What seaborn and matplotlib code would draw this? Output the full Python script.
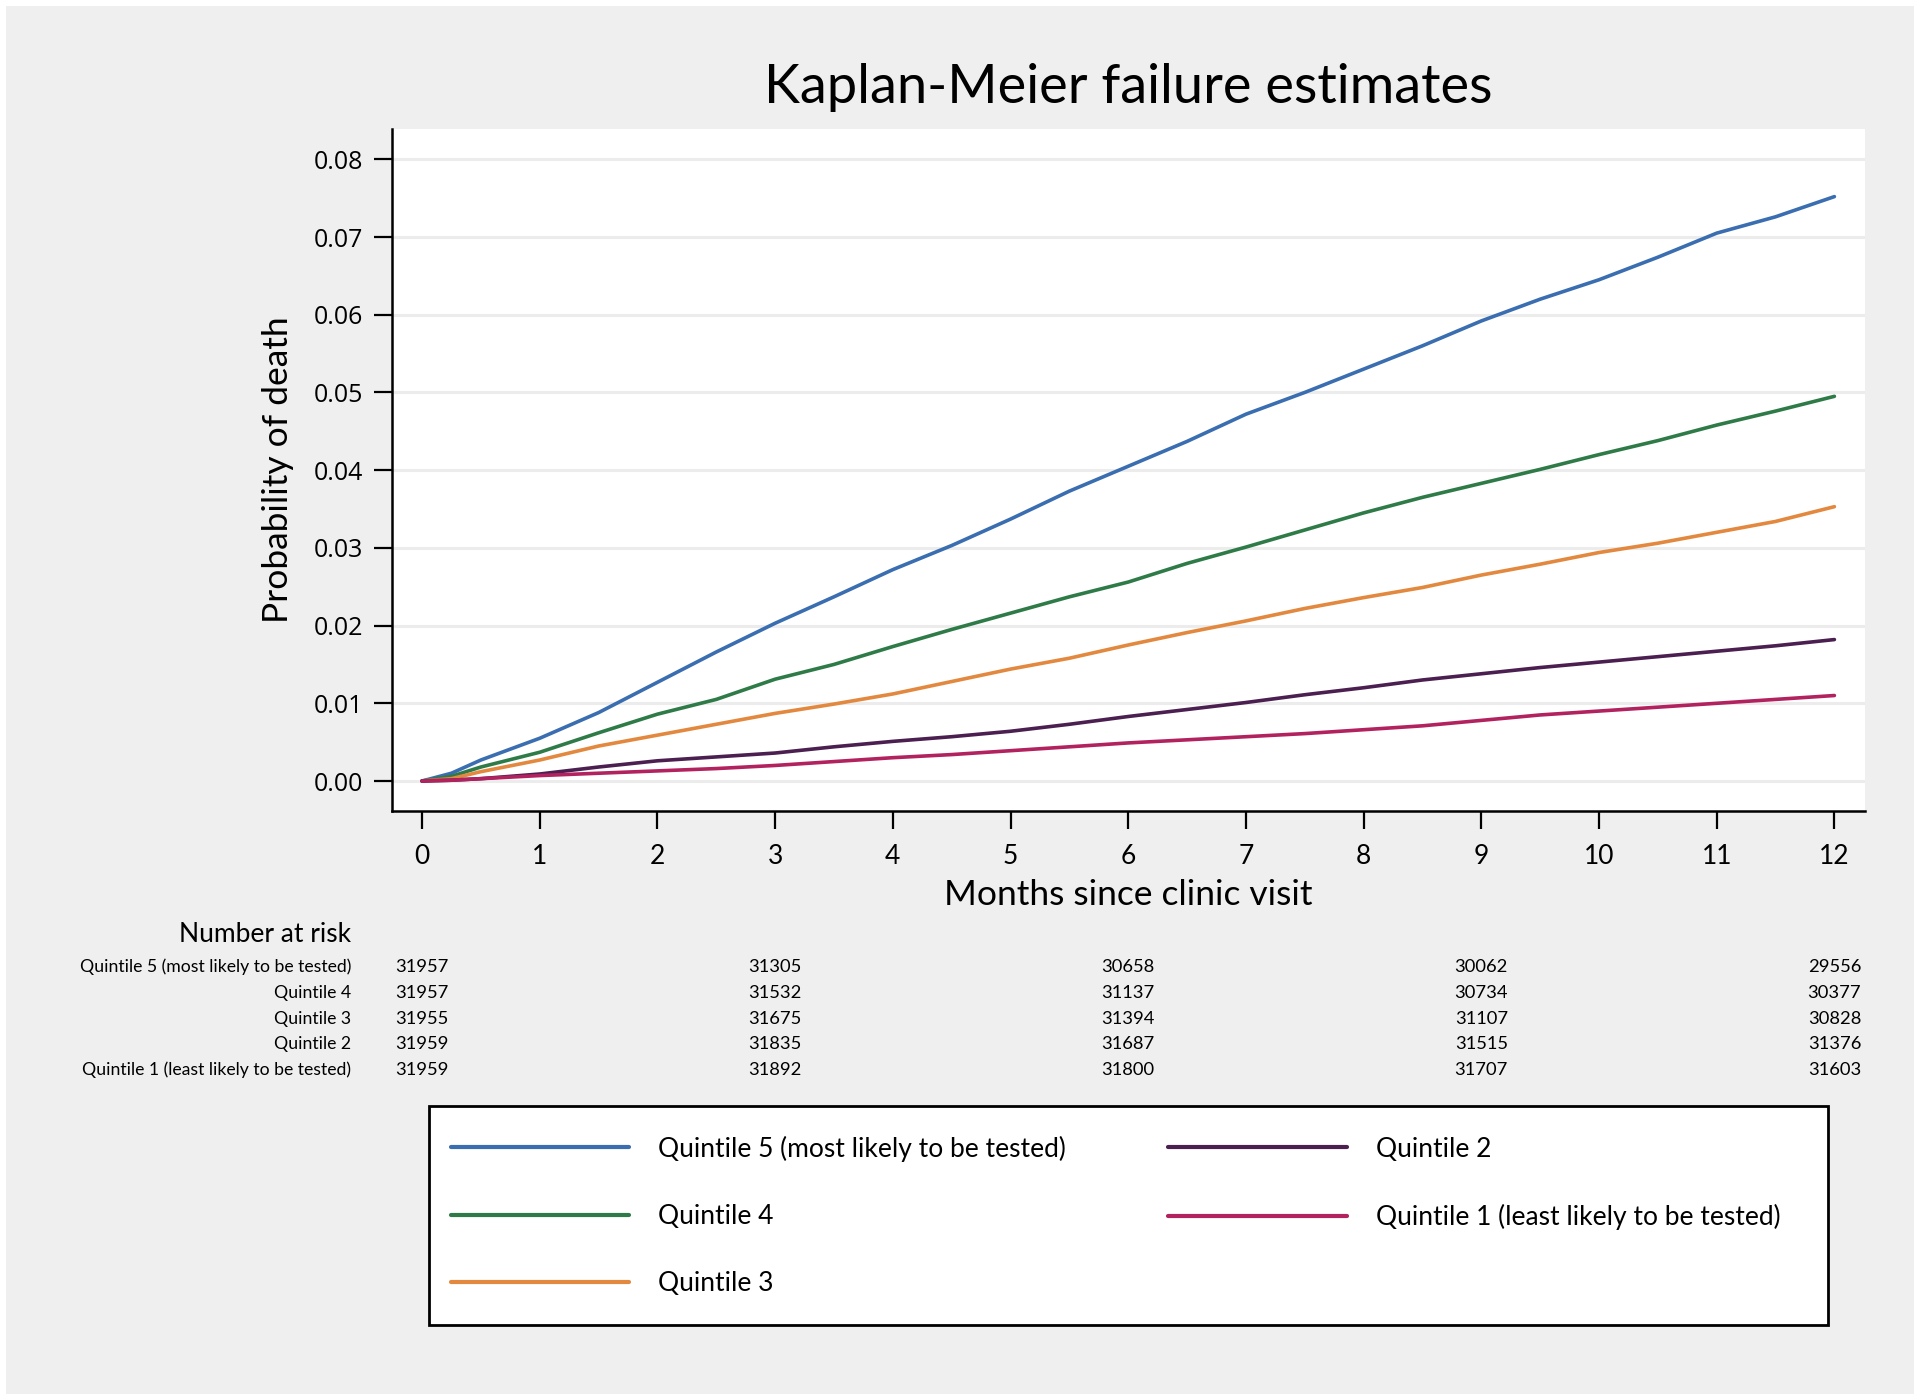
import numpy as np
import pandas as pd
import matplotlib
matplotlib.use("Agg")
import matplotlib.pyplot as plt
from matplotlib.patches import Rectangle
from matplotlib.lines import Line2D
from matplotlib.transforms import blended_transform_factory
import seaborn as sns

# ---------------- data ----------------
months = [0, 0.25, 0.5, 1, 1.5, 2, 2.5, 3, 3.5, 4, 4.5, 5, 5.5, 6, 6.5, 7, 7.5,
          8, 8.5, 9, 9.5, 10, 10.5, 11, 11.5, 12]
q5 = [0, 0.0010, 0.0027, 0.0055, 0.0088, 0.0127, 0.0166, 0.0203, 0.0237, 0.0272,
      0.0303, 0.0337, 0.0373, 0.0405, 0.0437, 0.0472, 0.0500, 0.0530, 0.0560,
      0.0592, 0.0620, 0.0645, 0.0674, 0.0705, 0.0726, 0.0752]
q4 = [0, 0.0006, 0.0018, 0.0037, 0.0062, 0.0086, 0.0105, 0.0131, 0.0150, 0.0173,
      0.0195, 0.0216, 0.0237, 0.0256, 0.0280, 0.0301, 0.0323, 0.0345, 0.0365,
      0.0383, 0.0401, 0.0420, 0.0438, 0.0458, 0.0476, 0.0495]
q3 = [0, 0.0003, 0.0012, 0.0027, 0.0045, 0.0059, 0.0073, 0.0087, 0.0099, 0.0112,
      0.0128, 0.0144, 0.0158, 0.0175, 0.0191, 0.0206, 0.0222, 0.0236, 0.0249,
      0.0265, 0.0279, 0.0294, 0.0306, 0.0320, 0.0334, 0.0353]
q2 = [0, 0.0001, 0.0003, 0.0009, 0.0018, 0.0026, 0.0031, 0.0036, 0.0044, 0.0051,
      0.0057, 0.0064, 0.0073, 0.0083, 0.0092, 0.0101, 0.0111, 0.0120, 0.0130,
      0.0138, 0.0146, 0.0153, 0.0160, 0.0167, 0.0174, 0.0182]
q1 = [0, 0.0001, 0.0003, 0.0007, 0.0010, 0.0013, 0.0016, 0.0020, 0.0025, 0.0030,
      0.0034, 0.0039, 0.0044, 0.0049, 0.0053, 0.0057, 0.0061, 0.0066, 0.0071,
      0.0078, 0.0085, 0.0090, 0.0095, 0.0100, 0.0105, 0.0110]

group_labels = ["Quintile 5 (most likely to be tested)", "Quintile 4", "Quintile 3",
                "Quintile 2", "Quintile 1 (least likely to be tested)"]
group_colors = ["#3a6eb0", "#2e7b48", "#e3883f", "#4b1f50", "#b2225e"]

risk_times = [0, 3, 6, 9, 12]
risk_q5 = [31957, 31305, 30658, 30062, 29556]
risk_q4 = [31957, 31532, 31137, 30734, 30377]
risk_q3 = [31955, 31675, 31394, 31107, 30828]
risk_q2 = [31959, 31835, 31687, 31515, 31376]
risk_q1 = [31959, 31892, 31800, 31707, 31603]

y_ticks = [0.00, 0.01, 0.02, 0.03, 0.04, 0.05, 0.06, 0.07, 0.08]
x_ticks = list(range(0, 13))

# ---------------- build frame ----------------
series = [q5, q4, q3, q2, q1]
df = pd.concat([pd.DataFrame({"month": months, "prob": s, "group": g})
                for s, g in zip(series, group_labels)], ignore_index=True)

sns.set_theme(style="white")
plt.rcParams["font.family"] = ["Lato", "DejaVu Sans"]
plt.rcParams["text.color"] = "black"
plt.rcParams["axes.labelcolor"] = "black"
plt.rcParams["xtick.color"] = "black"
plt.rcParams["ytick.color"] = "black"

W, H = 1920, 1400
fig = plt.figure(figsize=(19.2, 14), dpi=100, facecolor="white")
fig.patches.append(Rectangle((6 / W, 6 / H), 1 - 12 / W, 1 - 12 / H,
                             transform=fig.transFigure, facecolor="#efefef",
                             edgecolor="none", zorder=-10))

L, R, T, B = 392, 1865, 129, 811
ax = fig.add_axes([L / W, 1 - B / H, (R - L) / W, (B - T) / H])
ax.set_facecolor("white")

palette = dict(zip(group_labels, group_colors))
sns.lineplot(data=df, x="month", y="prob", hue="group", hue_order=group_labels,
             palette=palette, linewidth=2.6, legend=False, ax=ax)

ax.set_xlim(-0.255, 12.26)
ax.set_ylim(-0.00386, 0.0839)
ax.set_xticks(x_ticks)
ax.set_yticks(y_ticks)
ax.set_yticklabels([f"{v:.2f}" for v in y_ticks], fontfamily="Open Sans", fontsize=18)
ax.set_xticklabels([str(v) for v in x_ticks], fontsize=19)
ax.yaxis.grid(True, color="#ececec", linewidth=2.2)
ax.set_axisbelow(True)
for side in ("top", "right"):
    ax.spines[side].set_visible(False)
for side in ("left", "bottom"):
    ax.spines[side].set_color("black")
    ax.spines[side].set_linewidth(1.8)
ax.tick_params(axis="both", which="major", direction="out", length=13, width=1.6,
               color="black", labelcolor="black", left=True, bottom=True)
ax.tick_params(axis="y", pad=8)
ax.tick_params(axis="x", pad=11)

ax.set_xlabel("Months since clinic visit", fontsize=25.5)
ax.xaxis.set_label_coords(0.5, (B - 895) / (B - T))
ax.xaxis.label.set_va("center")
ax.set_ylabel("Probability of death", fontsize=25.5)
ax.yaxis.set_label_coords((278 - L) / (R - L), 0.5)
ax.yaxis.label.set_va("center")

fig.text(1128 / W, 1 - 88 / H, "Kaplan-Meier failure estimates", fontsize=39,
         ha="center", va="center", color="black")

# ---------------- number at risk table ----------------
trans = blended_transform_factory(ax.transData, fig.transFigure)
fig.text(351 / W, 1 - 935 / H, "Number at risk", fontsize=19, ha="right", va="center")
row_y = [967, 993, 1019, 1044, 1070]
risk_rows = [risk_q5, risk_q4, risk_q3, risk_q2, risk_q1]
for lbl, yy, vals in zip(group_labels, row_y, risk_rows):
    fig.text(351 / W, 1 - yy / H, lbl, fontsize=12.7, ha="right", va="center")
    for t, v in zip(risk_times, vals):
        ax.text(t, 1 - yy / H, str(v), transform=trans, fontsize=13.2,
                ha="center", va="center", clip_on=False)

# ---------------- legend ----------------
fig.patches.append(Rectangle((429 / W, 1 - 1325 / H), (1828 - 429) / W, (1325 - 1106) / H,
                             transform=fig.transFigure, facecolor="white",
                             edgecolor="black", linewidth=2.0, zorder=1))
handles = [Line2D([0], [0], color=c, linewidth=3.0) for c in group_colors]
leg = fig.legend(handles, group_labels, ncol=2, loc="upper left",
                 bbox_to_anchor=(440 / W, 1 - 1125 / H), frameon=False,
                 fontsize=19, handlelength=6.78, handletextpad=1.1,
                 labelspacing=1.6, columnspacing=3.86, borderaxespad=0)

fig.savefig("out.png", dpi=100, facecolor=fig.get_facecolor())
